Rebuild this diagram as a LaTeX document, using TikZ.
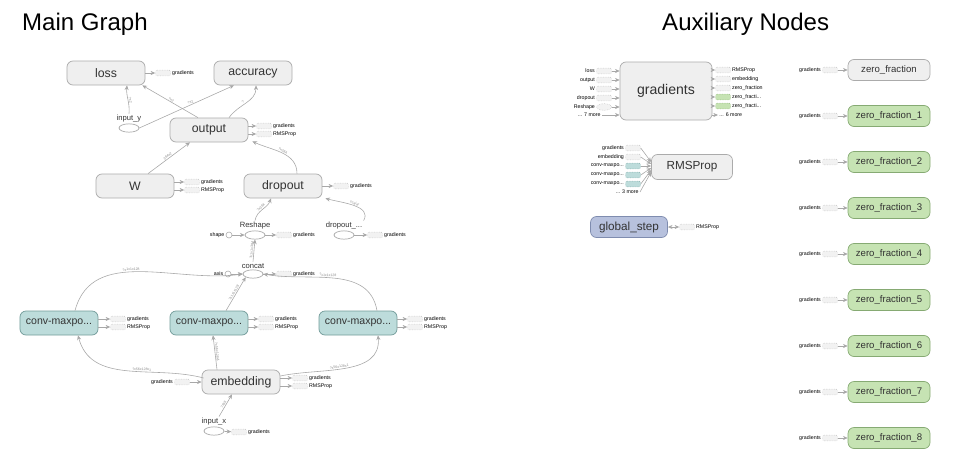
\documentclass[tikz,border=0pt]{standalone}
\usepackage{fontspec}
\setmainfont{Liberation Sans}
\usetikzlibrary{shapes.geometric,arrows.meta,calc}
\definecolor{opfill}{HTML}{EFEFEF}
\definecolor{opbd}{HTML}{ABABAB}
\definecolor{convfill}{HTML}{BDDCDB}
\definecolor{convbd}{HTML}{729B99}
\definecolor{zgfill}{HTML}{C6E3B3}
\definecolor{zgbd}{HTML}{86AA73}
\definecolor{gsfill}{HTML}{B7C1DD}
\definecolor{gsbd}{HTML}{7F8CAF}
\definecolor{edgec}{HTML}{A8A8A8}
\definecolor{stubfill}{HTML}{F2F2F2}
\definecolor{stubbd}{HTML}{B5B5B5}
\definecolor{elc}{HTML}{888888}
\definecolor{txt}{HTML}{333333}
\begin{document}
\begin{tikzpicture}[x=0.03cm,y=-0.03cm,
  op/.style={draw=opbd, fill=opfill, rounded corners=0.18cm, minimum width=2.34cm, minimum height=0.72cm, inner sep=1pt, font=\fontsize{10.5}{12}\selectfont, text=txt, line width=0.6pt},
  conv/.style={op, draw=convbd, fill=convfill, font=\fontsize{9}{11}\selectfont},
  zf/.style={op, minimum width=2.46cm, minimum height=0.63cm, font=\fontsize{8.2}{10}\selectfont},
  zfg/.style={zf, fill=zgfill, draw=zgbd},
  stub/.style={draw=stubbd, densely dotted, fill=stubfill, rounded corners=1pt, minimum width=0.45cm, minimum height=0.17cm, inner sep=0, line width=0.4pt},
  cstub/.style={stub, fill=convfill, draw=convbd},
  gstub/.style={stub, fill=zgfill, draw=zgbd},
  estub/.style={stub, ellipse},
  slab/.style={font=\fontsize{4.5}{5}\selectfont, inner sep=1pt},
  ell/.style={ellipse, draw=opbd, fill=white, minimum width=0.6cm, minimum height=0.25cm, inner sep=0, line width=0.6pt},
  ellab/.style={font=\fontsize{6.5}{7}\selectfont, text=txt, inner sep=1pt},
  dot/.style={circle, draw=opbd, fill=white, minimum size=0.18cm, inner sep=0, line width=0.5pt},
  edge/.style={draw=edgec, line width=0.5pt, -{Stealth[length=4pt,width=3.5pt,fill=edgec]}},
  elab/.style={font=\fontsize{3}{3.5}\selectfont, text=elc, sloped, above, inner sep=0.6pt},
  title/.style={font=\fontsize{20.5}{24}\selectfont, anchor=base west, inner sep=0}]
\useasboundingbox (0,0) rectangle (961,472);

% titles
\node[title] (t1) at (22,30) {Main Graph};
\node[title] (t2) at (662,30) {Auxiliary Nodes};

% ---------------- main graph nodes
\node[op] (loss) at (106,73) {loss};
\node[op] (acc) at (253,73) {accuracy};
\node[op] (output) at (209,130) {output};
\node[ell, label={[ellab,name=iyl]above:input\_y}] (iy) at (129,128) {};
\node[op] (W) at (135,186) {W};
\node[op] (dropout) at (283,186) {dropout};
\node[ell, label={[ellab,name=rsl]above:Reshape}] (rs) at (255,235) {};
\node[dot, label={[slab]left:shape}] (shape) at (229,235) {};
\node[ell, label={[ellab,name=dpl]above:dropout\_...}] (dp) at (344,235) {};
\node[ell, label={[ellab,name=ccl]above:concat}] (cc) at (253,274) {};
\node[dot, label={[slab]left:axis}] (axis) at (228,274) {};
\node[conv] (conv1) at (59,323) {conv-maxpo...};
\node[conv] (conv2) at (209,323) {conv-maxpo...};
\node[conv] (conv3) at (358,323) {conv-maxpo...};
\node[op] (emb) at (241,382) {embedding};
\node[ell, label={[ellab,name=ixl]above:input\_x}] (ix) at (214,431) {};

% ---------------- stubs (main)
\node[stub, label={[slab]right:gradients}] (lossg) at (163,73) {};
\node[stub, label={[slab]right:gradients}] (outg) at (264,126) {};
\node[stub, label={[slab]right:RMSProp}] (outr) at (264,134) {};
\node[stub, label={[slab]right:gradients}] (Wg) at (192,182) {};
\node[stub, label={[slab]right:RMSProp}] (Wr) at (192,190) {};
\node[stub, label={[slab]right:gradients}] (dropg) at (341,186) {};
\node[stub, label={[slab]right:gradients}] (rsg) at (284,235) {};
\node[stub, label={[slab]right:gradients}] (dpg) at (375,235) {};
\node[stub, label={[slab]right:gradients}] (ccg) at (284,274) {};
\node[stub, label={[slab]right:gradients}] (c1g) at (118,319) {};
\node[stub, label={[slab]right:RMSProp}] (c1r) at (118,327) {};
\node[stub, label={[slab]right:gradients}] (c2g) at (266,319) {};
\node[stub, label={[slab]right:RMSProp}] (c2r) at (266,327) {};
\node[stub, label={[slab]right:gradients}] (c3g) at (415,319) {};
\node[stub, label={[slab]right:RMSProp}] (c3r) at (415,327) {};
\node[stub, label={[slab]left:gradients}] (embin) at (182,382) {};
\node[stub, label={[slab]right:gradients}] (embg) at (300,378) {};
\node[stub, label={[slab]right:RMSProp}] (embr) at (300,386) {};
\node[stub, label={[slab]right:gradients}] (ixg) at (239,432) {};

% stub edges
\draw[edge] (loss.east |- lossg) -- (lossg);
\draw[edge] (output.east |- outg) -- (outg);
\draw[edge] (output.east |- outr) -- (outr);
\draw[edge] (W.east |- Wg) -- (Wg);
\draw[edge] (W.east |- Wr) -- (Wr);
\draw[edge] (dropout.east |- dropg) -- (dropg);
\draw[edge] (rs) -- (rsg);
\draw[edge] (dp) -- (dpg);
\draw[edge] (cc) -- (ccg);
\draw[edge] (conv1.east |- c1g) -- (c1g);
\draw[edge] (conv1.east |- c1r) -- (c1r);
\draw[edge] (conv2.east |- c2g) -- (c2g);
\draw[edge] (conv2.east |- c2r) -- (c2r);
\draw[edge] (conv3.east |- c3g) -- (c3g);
\draw[edge] (conv3.east |- c3r) -- (c3r);
\draw[edge] (embin) -- (emb.west |- embin);
\draw[edge] (emb.east |- embg) -- (embg);
\draw[edge] (emb.east |- embr) -- (embr);
\draw[edge] (ix) -- (ixg);
\draw[edge] (shape) -- (rs);
\draw[edge] (axis) -- (cc);

% main data edges
\draw[edge] (iyl.north) to[out=85,in=-95] node[elab, pos=0.45] {?x2} ($(loss.south)+(21,0)$);
\draw[edge] ($(output.north)+(-11,0)$) -- node[elab, pos=0.5] {?x2} ($(loss.south east)+(-3,0)$);
\draw[edge] (iy.east) -- node[elab, pos=0.55] {?x2} ($(acc.south)+(-19,0)$);
\draw[edge] ($(output.north)+(20,0)$) to[out=55,in=-90] node[elab, pos=0.45] {?} ($(acc.south)+(3,0)$);
\draw[edge] ($(W.north)+(13,0)$) -- node[elab, pos=0.5] {384x2} ($(output.south)+(-19,0)$);
\draw[edge] ($(dropout.north)+(14,0)$) to[out=90,in=-25] node[elab, pos=0.5] {?x384} ($(output.south east)+(4,-1)$);
\draw[edge] (rsl.north) to[out=80,in=-110] node[elab, pos=0.5] {?x384} ($(dropout.south)+(-12,0)$);
\draw[edge] (dpl.north east) to[out=60,in=-15] node[elab, pos=0.5] {scalar} ($(dropout.south east)+(3,0)$);
\draw[edge] (ccl.north) -- node[elab, pos=0.5] {?x1x1x384} (rs.south);
\draw[edge] ($(conv1.north)+(16,0)$) to[out=75,in=188] node[elab, pos=0.45] {?x1x1x128} (cc.west);
\draw[edge] ($(conv2.north)+(17,0)$) -- node[elab, pos=0.5] {?x1x1x128} (cc.south west);
\draw[edge] ($(conv3.north)+(19,0)$) to[out=100,in=-10] node[elab, pos=0.55] {?x1x1x128} (cc.east);
\draw[edge] ($(emb.west)+(2,-4)$) to[out=165,in=-75] node[elab, pos=0.4] {?x56x128x1} ($(conv1.south)+(19,0)$);
\draw[edge] ($(emb.north)+(-24,0)$) -- node[elab, pos=0.5] {?x56x128x1} ($(conv2.south)+(4,0)$);
\draw[edge] ($(emb.east)+(0,-6)$) to[out=12,in=-85] node[elab, pos=0.45] {?x56x128x1} ($(conv3.south)+(20,0)$);
\draw[edge] ($(ixl.north)+(5,0)$) -- node[elab, pos=0.5] {?x56} ($(emb.south)+(-9,0)$);

% ---------------- auxiliary nodes
\node[op, minimum width=2.76cm, minimum height=1.74cm, font=\fontsize{12}{14}\selectfont] (grad) at (666,91) {gradients};
\node[stub, label={[slab]left:loss}] (gi1) at (604,71) {};
\node[stub, label={[slab]left:output}] (gi2) at (604,80) {};
\node[stub, label={[slab]left:W}] (gi3) at (604,89) {};
\node[stub, label={[slab]left:dropout}] (gi4) at (604,98) {};
\node[estub, minimum width=0.45cm, minimum height=0.2cm, label={[slab]left:Reshape}] (gi5) at (604,107) {};
\node[slab, anchor=east] (gi6) at (602,115) {... 7 more};
\foreach \s in {gi1,gi2,gi3,gi4,gi5} \draw[edge] (\s) -- (grad.west |- \s);
\draw[edge] (gi6.east) -- (grad.west |- gi6);

\node[stub, label={[slab]right:RMSProp}] (go1) at (723,70) {};
\node[stub, label={[slab]right:embedding}] (go2) at (723,79) {};
\node[stub, label={[slab]right:zero\_fraction}] (go3) at (723,88) {};
\node[gstub, label={[slab]right:zero\_fracti...}] (go4) at (723,97) {};
\node[gstub, label={[slab]right:zero\_fracti...}] (go5) at (723,106) {};
\node[slab, anchor=west] (go6) at (718,115) {... 6 more};
\foreach \s in {go1,go2,go3,go4,go5} \draw[edge] (grad.east |- \s) -- (\s);
\draw[edge] (grad.east |- go6) -- (go6.west);

\node[op, minimum width=2.43cm, minimum height=0.75cm, font=\fontsize{10}{12}\selectfont] (rms) at (692,167) {RMSProp};
\node[stub, label={[slab]left:gradients}] (ri1) at (633,148) {};
\node[stub, label={[slab]left:embedding}] (ri2) at (633,157) {};
\node[cstub, label={[slab]left:conv-maxpo...}] (ri3) at (633,166) {};
\node[cstub, label={[slab]left:conv-maxpo...}] (ri4) at (633,175) {};
\node[cstub, label={[slab]left:conv-maxpo...}] (ri5) at (633,184) {};
\node[slab, anchor=east] (ri6) at (640,192) {... 3 more};
\draw[edge] (ri1.east) -- ($(rms.west)+(0,-5)$);
\draw[edge] (ri2.east) -- ($(rms.west)+(0,-3)$);
\draw[edge] (ri3.east) -- ($(rms.west)+(0,-1)$);
\draw[edge] (ri4.east) -- ($(rms.west)+(0,1)$);
\draw[edge] (ri5.east) -- ($(rms.west)+(0,3)$);
\draw[edge] (ri6.east) -- ($(rms.west)+(0,5)$);

\node[op, fill=gsfill, draw=gsbd, minimum width=2.31cm, minimum height=0.63cm, font=\fontsize{10}{12}\selectfont] (gs) at (629,227) {global\_step};
\node[stub, label={[slab]right:RMSProp}] (gsr) at (687,227) {};
\draw[edge, {Stealth[length=4pt,width=3.5pt,fill=edgec]}-{Stealth[length=4pt,width=3.5pt,fill=edgec]}] (gs.east) -- (gsr);

% zero fractions
\node[zf] (z0) at (889,70) {zero\_fraction};
\node[zfg] (z1) at (889,116) {zero\_fraction\_1};
\node[zfg] (z2) at (889,162) {zero\_fraction\_2};
\node[zfg] (z3) at (889,208) {zero\_fraction\_3};
\node[zfg] (z4) at (889,254) {zero\_fraction\_4};
\node[zfg] (z5) at (889,300) {zero\_fraction\_5};
\node[zfg] (z6) at (889,346) {zero\_fraction\_6};
\node[zfg] (z7) at (889,392) {zero\_fraction\_7};
\node[zfg] (z8) at (889,438) {zero\_fraction\_8};
\foreach \i in {0,...,8} {
  \node[stub, label={[slab]left:gradients}] (zs\i) at (830,{70+46*\i}) {};
  \draw[edge] (zs\i) -- (z\i.west);
}
\end{tikzpicture}
\end{document}
